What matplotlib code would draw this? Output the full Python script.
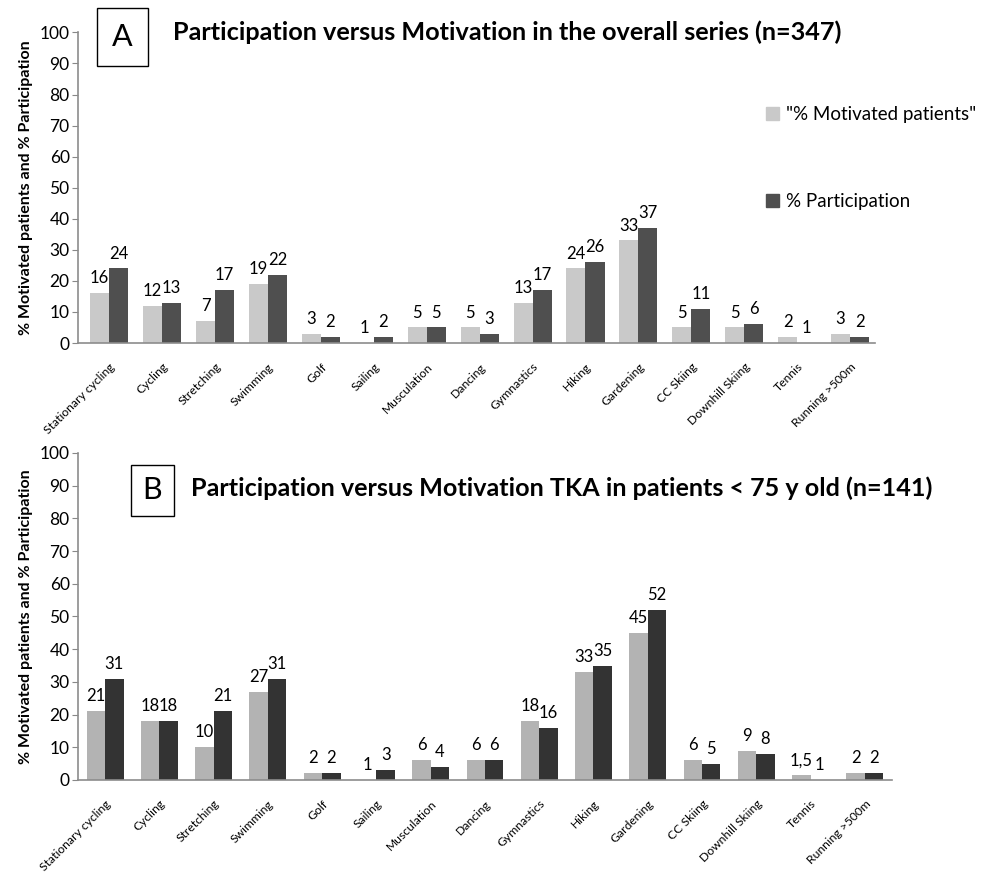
import numpy as np
import matplotlib.pyplot as plt
from matplotlib.patches import Patch

plt.rcParams['font.family'] = ['Lato', 'DejaVu Sans']

activities = ['Stationary cycling', 'Cycling', 'Stretching', 'Swimming', 'Golf',
              'Sailing', 'Musculation', 'Dancing', 'Gymnastics', 'Hiking',
              'Gardening', 'CC Skiing', 'Downhill Skiing', 'Tennis', 'Running >500m']

# panel A: overall series (n=347)
motiv_a = [16, 12, 7, 19, 3, 0, 5, 5, 13, 24, 33, 5, 5, 2, 3]
partic_a = [24, 13, 17, 22, 2, 2, 5, 3, 17, 26, 37, 11, 6, 0, 2]
motiv_a_lbl = ['16', '12', '7', '19', '3', '1', '5', '5', '13', '24', '33', '5', '5', '2', '3']
partic_a_lbl = ['24', '13', '17', '22', '2', '2', '5', '3', '17', '26', '37', '11', '6', '1', '2']

# panel B: TKA patients < 75 y (n=141)
motiv_b = [21, 18, 10, 27, 2, 0, 6, 6, 18, 33, 45, 6, 9, 1.5, 2]
partic_b = [31, 18, 21, 31, 2, 3, 4, 6, 16, 35, 52, 5, 8, 0, 2]
motiv_b_lbl = ['21', '18', '10', '27', '2', '1', '6', '6', '18', '33', '45', '6', '9', '1,5', '2']
partic_b_lbl = ['31', '18', '21', '31', '2', '3', '4', '6', '16', '35', '52', '5', '8', '1', '2']

fig = plt.figure(figsize=(9.82, 8.75), dpi=100)
ax_a = fig.add_axes([0.0794, 0.608, 0.8116, 0.355])
ax_b = fig.add_axes([0.0794, 0.1086, 0.8289, 0.3737])


def draw_panel(ax, motiv, partic, motiv_lbl, partic_lbl, c_light, c_dark, width, xlim):
    x = np.arange(len(activities))
    ax.bar(x - width / 2, motiv, width, color=c_light)
    ax.bar(x + width / 2, partic, width, color=c_dark)
    for i in range(len(x)):
        ax.annotate(motiv_lbl[i], (x[i] - width / 2, motiv[i]), xytext=(0, 5),
                    textcoords='offset points', ha='center', va='bottom', fontsize=12)
        ax.annotate(partic_lbl[i], (x[i] + width / 2, partic[i]), xytext=(0, 5),
                    textcoords='offset points', ha='center', va='bottom', fontsize=12)
    ax.set_xlim(*xlim)
    ax.set_ylim(0, 100)
    ax.set_yticks(range(0, 101, 10))
    ax.tick_params(axis='y', labelsize=12.5, length=4, color='#888888', pad=2)
    ax.set_xticks(x)
    ax.set_xticklabels(activities, rotation=45, ha='right', rotation_mode='anchor', fontsize=8.7)
    ax.tick_params(axis='x', length=0, pad=13)
    for s in ['top', 'right']:
        ax.spines[s].set_visible(False)
    for s in ['left', 'bottom']:
        ax.spines[s].set_color('#8c8c8c')
        ax.spines[s].set_linewidth(1.2)
    ax.set_ylabel('% Motivated patients and % Participation', fontsize=11.5, fontweight='bold', labelpad=5)


draw_panel(ax_a, motiv_a, partic_a, motiv_a_lbl, partic_a_lbl, '#c9c9c9', '#4f4f4f', 0.36, (-0.59, 14.47))
draw_panel(ax_b, motiv_b, partic_b, motiv_b_lbl, partic_b_lbl, '#b3b3b3', '#333333', 0.34, (-0.5, 14.5))

fig.text(0.176, 0.963, 'Participation versus Motivation in the overall series (n=347)',
         fontsize=18.2, fontweight='bold', va='center', ha='left')
fig.text(0.1245, 0.9575, 'A', fontsize=22, ha='center', va='center',
         bbox=dict(boxstyle='square,pad=0.5', fc='white', ec='black', lw=1))
fig.text(0.194, 0.442, 'Participation versus Motivation TKA in patients < 75 y old (n=141)',
         fontsize=18.1, fontweight='bold', va='center', ha='left')
fig.text(0.155, 0.4395, 'B', fontsize=22, ha='center', va='center',
         bbox=dict(boxstyle='square,pad=0.38', fc='white', ec='black', lw=1))

handles = [Patch(color='#c9c9c9', label='"% Motivated patients"'),
           Patch(color='#4f4f4f', label='% Participation')]
fig.legend(handles=handles, loc='upper left', bbox_to_anchor=(0.772, 0.887), frameon=False,
           fontsize=13.5, handlelength=0.7, handleheight=0.7, handletextpad=0.4,
           labelspacing=3.7, borderaxespad=0)

fig.savefig('out.png', dpi=100)
